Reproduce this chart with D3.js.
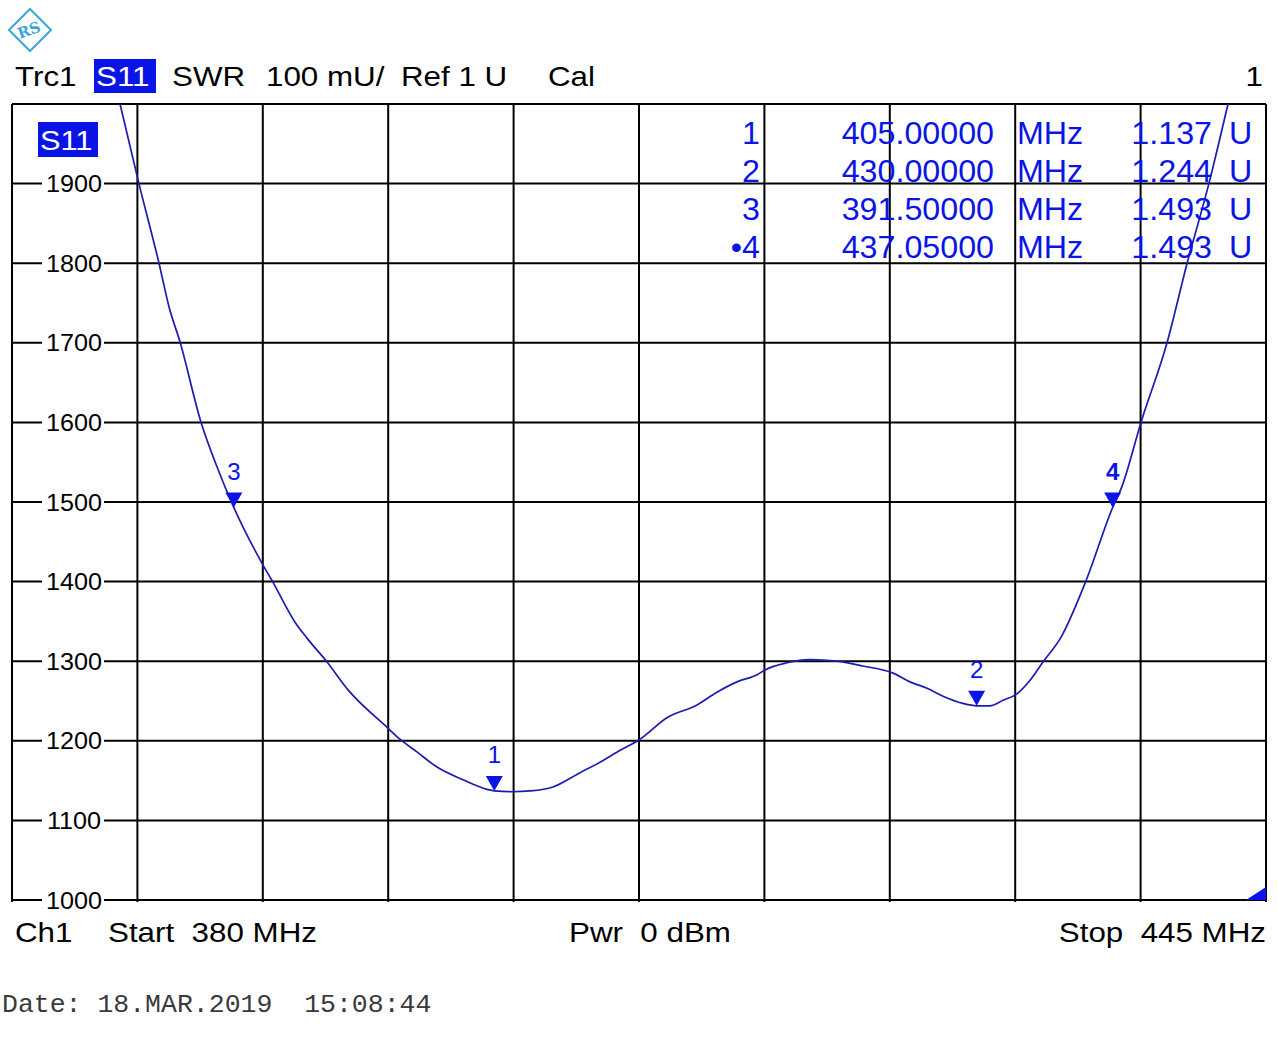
<!DOCTYPE html>
<html>
<head>
<meta charset="utf-8">
<script src="https://cdn.jsdelivr.net/npm/d3@7"></script>
<style>
  html, body { margin: 0; padding: 0; background: #fff; }
  svg { display: block; font-family: "Liberation Sans", Arial, sans-serif; }
</style>
</head>
<body>
<svg id="chart" width="1278" height="1052"></svg>
<script>
// trace: S11 SWR, frequency in MHz, value in mU
const traceFreq = [385.2, 385.6, 386.58, 387.62, 388.14, 388.71, 389.8, 390.63, 391.5, 392.96,
  393.53, 394.67, 395.29, 396.33, 397.42, 399.44, 400.11, 400.99, 402.03, 403.38, 404.62, 405.0,
  405.97, 406.85, 408.04, 409.44, 410.48, 411.52, 412.55, 413.95, 415.51, 416.54, 417.58, 418.62,
  419.03, 420.17, 421.36, 422.76, 424.11, 425.67, 426.55, 427.43, 428.26, 429.29, 430.0, 430.69,
  431.37, 432.09, 432.77, 433.44, 434.37, 435.67, 437.05, 437.51, 438.52, 439.87, 440.9, 442.04,
  443.03, 443.44];
const traceVal = [2043, 2000, 1900, 1800, 1745, 1701, 1600, 1544, 1493, 1423,
  1399, 1349, 1329, 1299, 1264, 1217, 1202, 1186, 1167, 1151, 1139, 1137,
  1136, 1137, 1142, 1160, 1173, 1188, 1202, 1229, 1245, 1261, 1274, 1283,
  1289, 1298, 1302, 1300, 1294, 1285, 1274, 1266, 1256, 1247, 1244, 1244,
  1251, 1259, 1276, 1299, 1330, 1401, 1493, 1518, 1600, 1700, 1799, 1900,
  2000, 2043];

// markers
const markerIds = ['1', '2', '3', '4'];
const markerFreq = [405.0, 430.0, 391.5, 437.05];
const markerVal = [1137, 1244, 1493, 1493];
const activeMarker = '4';

// axes
const freqStart = 380;
const freqStop = 445;
const xDivisions = 10;
const yTicks = [1000, 1100, 1200, 1300, 1400, 1500, 1600, 1700, 1800, 1900];
const yGridValues = [1000, 1100, 1200, 1300, 1400, 1500, 1600, 1700, 1800, 1900, 2000];

// header and footer texts
const headerItems = [
  { text: 'Trc1', x: 15 },
  { text: 'SWR', x: 172 },
  { text: '100 mU/', x: 266 },
  { text: 'Ref 1 U', x: 401 },
  { text: 'Cal', x: 548 }
];
const footerItems = [
  { text: 'Ch1', x: 15, anchor: 'start' },
  { text: 'Start  380 MHz', x: 108, anchor: 'start' },
  { text: 'Pwr  0 dBm', x: 569, anchor: 'start' },
  { text: 'Stop  445 MHz', x: 1266, anchor: 'end' }
];
const dateText = 'Date: 18.MAR.2019  15:08:44';

const plot = { left: 12, right: 1266, top: 104, bottom: 900 };
const BLUE = '#0a14e6';
const TRACE = '#1c1cb0';

const svg = d3.select('#chart');

const x = d3.scaleLinear().domain([freqStart, freqStop]).range([plot.left, plot.right]);
const y = d3.scaleLinear().domain([1000, 2000]).range([plot.bottom, plot.top]);

// the analyzer font is a bit wider than Arial, so stretch text horizontally
function label(parent, tx, ty, str, opts = {}) {
  const g = parent.append('g')
    .attr('transform', `translate(${tx},${ty}) scale(${opts.sx || 1},1)`);
  return g.append('text')
    .attr('text-anchor', opts.anchor || 'start')
    .attr('font-size', opts.size || 28)
    .attr('fill', opts.fill || '#000')
    .style('white-space', 'pre')
    .text(str);
}

// R&S logo
const logo = svg.append('g').attr('transform', 'translate(30,30)');
logo.append('path')
  .attr('d', 'M0,-21 L21,0 L0,21 L-21,0 Z')
  .attr('fill', 'none')
  .attr('stroke', '#3aa6d8')
  .attr('stroke-width', 2);
logo.append('text')
  .attr('x', -1).attr('y', 5)
  .attr('text-anchor', 'middle')
  .attr('font-size', 15)
  .attr('font-weight', 'bold')
  .attr('font-family', '"DejaVu Serif", serif')
  .attr('fill', '#3aa6d8')
  .attr('transform', 'rotate(-20)')
  .text('RS');

// header
const header = svg.append('g');
headerItems.forEach(d => label(header, d.x, 86, d.text, { size: 28.5, sx: 1.1 }));
header.insert('rect', ':first-child')
  .attr('x', 94).attr('y', 59).attr('width', 62).attr('height', 34)
  .attr('fill', BLUE);
label(header, 96, 86, 'S11', { size: 28.5, sx: 1.1, fill: '#fff' });
label(header, 1263, 86, '1', { size: 28.5, sx: 1.1, anchor: 'end' });

// grid
const grid = svg.append('g').attr('stroke', '#000').attr('stroke-width', 2);
d3.range(xDivisions + 1).forEach(i => {
  const fx = x(freqStart + i * (freqStop - freqStart) / xDivisions);
  grid.append('line')
    .attr('x1', fx).attr('x2', fx)
    .attr('y1', plot.top).attr('y2', plot.bottom + 2);
});
yGridValues.forEach(v => {
  grid.append('line')
    .attr('x1', plot.left).attr('x2', plot.right)
    .attr('y1', y(v)).attr('y2', y(v));
});

// y labels sit on the grid lines with a white patch behind them
const yLabels = svg.append('g');
yTicks.forEach(v => {
  yLabels.append('rect')
    .attr('x', 42).attr('y', y(v) - 12).attr('width', 62).attr('height', 24)
    .attr('fill', '#fff');
  label(yLabels, 74, y(v) + 8.6, String(v), { size: 24, sx: 1.05, anchor: 'middle' });
});

// trace label
svg.append('rect')
  .attr('x', 38).attr('y', 122).attr('width', 60).attr('height', 35)
  .attr('fill', BLUE);
label(svg, 40, 150, 'S11', { size: 28.5, sx: 1.08, fill: '#fff' });

// trace
svg.append('clipPath').attr('id', 'plot-clip')
  .append('rect')
  .attr('x', plot.left).attr('y', plot.top)
  .attr('width', plot.right - plot.left).attr('height', plot.bottom - plot.top);

const line = d3.line()
  .x((d, i) => x(traceFreq[i]))
  .y(d => y(d))
  .curve(d3.curveMonotoneX);

svg.append('path')
  .datum(traceVal)
  .attr('clip-path', 'url(#plot-clip)')
  .attr('d', line)
  .attr('fill', 'none')
  .attr('stroke', TRACE)
  .attr('stroke-width', 1.7);

// marker table
const table = svg.append('g');
const tOpt = { size: 31, sx: 1.04, fill: BLUE };
markerIds.forEach((id, i) => {
  const by = 144 + i * 38;
  label(table, 760, by, id === activeMarker ? '\u2022' + id : id, { ...tOpt, anchor: 'end' });
  label(table, 994, by, markerFreq[i].toFixed(5), { ...tOpt, anchor: 'end' });
  label(table, 1017, by, 'MHz', tOpt);
  label(table, 1212, by, (markerVal[i] / 1000).toFixed(3), { ...tOpt, anchor: 'end' });
  label(table, 1229, by, 'U', tOpt);
});

// marker triangles on the trace
const markers = svg.append('g');
markerIds.forEach((id, i) => {
  const g = markers.append('g')
    .attr('transform', `translate(${x(markerFreq[i])},${y(markerVal[i])})`);
  g.append('path')
    .attr('d', 'M-8.5,-15 L8.5,-15 L0,0 Z')
    .attr('fill', BLUE);
  g.append('text')
    .attr('y', -28)
    .attr('text-anchor', 'middle')
    .attr('font-size', 24)
    .attr('font-weight', id === activeMarker ? 'bold' : 'normal')
    .attr('fill', BLUE)
    .text(id);
});

// out of range indicator at bottom right
svg.append('path')
  .attr('d', `M${plot.right - 20},${plot.bottom} L${plot.right},${plot.bottom} L${plot.right},${plot.bottom - 13} Z`)
  .attr('fill', BLUE);

// footer
const footer = svg.append('g');
footerItems.forEach(d => label(footer, d.x, 942, d.text, { size: 28.5, sx: 1.1, anchor: d.anchor }));

svg.append('text')
  .attr('x', 2).attr('y', 1012)
  .attr('font-family', '"Liberation Mono", "DejaVu Sans Mono", monospace')
  .attr('font-size', 26.5)
  .attr('fill', '#3a3a3a')
  .style('white-space', 'pre')
  .text(dateText);
</script>
</body>
</html>
